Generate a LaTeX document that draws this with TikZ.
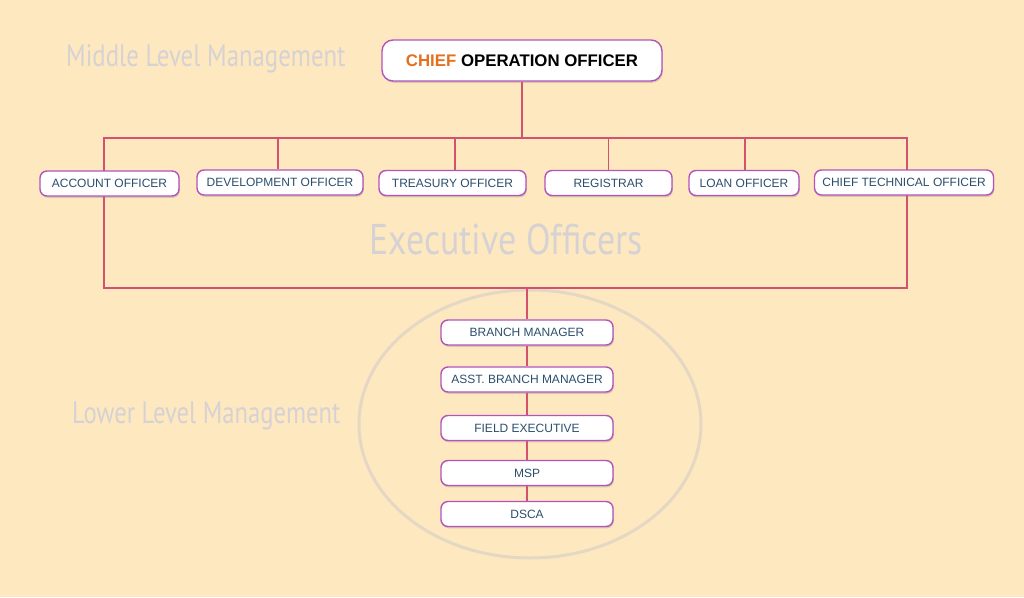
\documentclass[tikz,border=0pt]{standalone}
\usepackage{fontspec}
\usepackage{graphicx}
\setmainfont{Liberation Sans}
\newfontfamily\titlefont{PT Sans}
\usetikzlibrary{shapes.geometric,shadows}
\definecolor{bg}{RGB}{253,232,192}
\definecolor{boxborder}{RGB}{178,84,188}
\definecolor{boxtext}{RGB}{44,78,108}
\definecolor{linkcol}{RGB}{210,82,112}
\definecolor{ghostcol}{RGB}{214,210,212}
\definecolor{ringcol}{RGB}{228,216,196}
\definecolor{chieforange}{RGB}{228,112,30}
\begin{document}
\begin{tikzpicture}[x=1pt,y=-1pt,
  box/.style={draw=boxborder, line width=1.4pt, fill=white, rounded corners=7pt,
    minimum height=25pt, inner sep=0pt, font=\fontsize{12}{14}\selectfont, text=boxtext,
    drop shadow={opacity=0.3, shadow xshift=0.8pt, shadow yshift=-1.8pt}},
  topbox/.style={box, rounded corners=11pt, minimum height=41pt, font=\bfseries\fontsize{16.8}{19}\selectfont, text=black},
  link/.style={draw=linkcol, line width=1.2pt},
  ghost/.style={text=ghostcol, inner sep=0pt},
  ring/.style={draw=ringcol, line width=3pt}]
\useasboundingbox (0,0) rectangle (1024,597);
\fill[bg] (0,0) rectangle (1024,597);

% ghost labels
\node[ghost, anchor=west] (midlabel) at (66,59)
  {\titlefont\fontsize{31}{31}\selectfont\scalebox{0.8}[1]{Middle Level Management}};
\node[ghost, anchor=west] (lowlabel) at (72,416)
  {\titlefont\fontsize{31}{31}\selectfont\scalebox{0.795}[1]{Lower Level Management}};
\node[ghost] (execlabel) at (506,239)
  {\titlefont\fontsize{43}{43}\selectfont\scalebox{0.835}[1]{Executive Officers}};

% ring
\draw[ring] (530,424) ellipse [x radius=171, y radius=134];

% frame of executive officers
\coordinate (tl) at (104,138);
\coordinate (tr) at (907,138);
\coordinate (br) at (907,288);
\coordinate (bl) at (104,288);
\coordinate (bmid) at (527,288);
\draw[link] (tl) -- (tr) -- (br) -- (bl) -- cycle;

% top
\node[topbox, minimum width=280pt] (coo) at (522,60.5)
  {\textcolor{chieforange}{CHIEF} OPERATION OFFICER};

% executive row
\node[box, minimum width=139pt] (acc) at (109.5,183.5) {ACCOUNT OFFICER};
\node[box, minimum width=166pt] (dev) at (280,182.5) {DEVELOPMENT OFFICER};
\node[box, minimum width=147pt] (tre) at (452.5,183) {TREASURY OFFICER};
\node[box, minimum width=127pt] (reg) at (608.5,183) {REGISTRAR};
\node[box, minimum width=110pt] (loan) at (744,183) {LOAN OFFICER};
\node[box, minimum width=179pt] (cto) at (904,182.5) {CHIEF TECHNICAL OFFICER};

% lower column
\node[box, minimum width=172pt] (bm) at (527,332.5) {BRANCH MANAGER};
\node[box, minimum width=172pt] (abm) at (527,379.5) {ASST. BRANCH MANAGER};
\node[box, minimum width=172pt] (fe) at (527,428) {FIELD EXECUTIVE};
\node[box, minimum width=172pt] (msp) at (527,473) {MSP};
\node[box, minimum width=172pt] (dsca) at (527,514) {DSCA};

% connectors
\draw[link] (coo.south) -- (coo.south |- tl);
\draw[link] ([xshift=-2pt]dev.north |- tl) -- ([xshift=-2pt]dev.north);
\draw[link] ([xshift=2.5pt]tre.north |- tl) -- ([xshift=2.5pt]tre.north);
\draw[link] (reg.north |- tl) -- (reg.north);
\draw[link] ([xshift=1pt]loan.north |- tl) -- ([xshift=1pt]loan.north);
\draw[link] (bmid) -- (bm.north);
\draw[link] (bm.south) -- (abm.north);
\draw[link] (abm.south) -- (fe.north);
\draw[link] (fe.south) -- (msp.north);
\draw[link] (msp.south) -- (dsca.north);
\end{tikzpicture}
\end{document}
